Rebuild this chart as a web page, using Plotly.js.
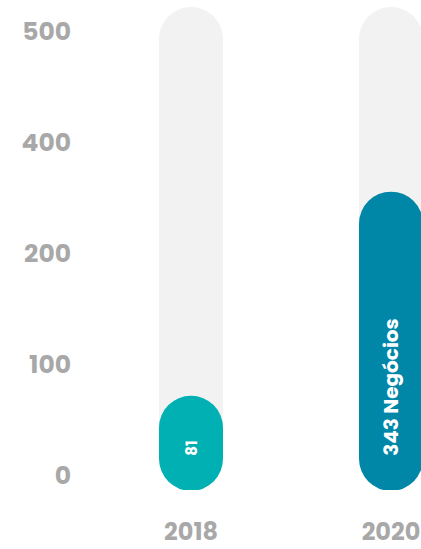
<!DOCTYPE html>
<html>
<head>
<meta charset="utf-8">
<script src="https://cdn.plot.ly/plotly-3.0.1.min.js"></script>
<style>html,body{margin:0;padding:0;background:#fff;}#chart{width:421px;height:549px;}</style>
</head>
<body>
<div id="chart"></div>
<script>
// ---- data ----
const categories = ['2018', '2020'];
const values = [81, 343];
const labelSuffixes = ['', ' Negócios'];
const yTickLabels = ['0', '100', '200', '400', '500'];

// ---- styles ----
const barColors = ['#00B0B3', '#0087A8'];
const trackColor = '#F2F2F2';
const tickColor = '#A8A8A8';
const FONT = 'Poppins, Inter, "Open Sans", sans-serif';
const yRange = [-40, 580];
const xRange = [-0.555, 1.15];
const barWidth = 0.32;

const traces = [
  // background track (full height pill)
  {
    type: 'bar', x: categories, y: categories.map(() => yRange[1]),
    width: barWidth, marker: {color: trackColor, cornerradius: '50%', line: {width: 0}},
    hoverinfo: 'skip'
  },
  // rounded bottom cap of each value bar
  {
    type: 'scatter', mode: 'markers', x: categories, y: categories.map(() => 0),
    marker: {size: 64, color: barColors, line: {width: 0}}, hoverinfo: 'skip'
  },
  // value bars (own overlaid x axis so their tops get rounded and sit above the caps)
  {
    type: 'bar', x: categories, y: values, xaxis: 'x2',
    width: barWidth, marker: {color: barColors, cornerradius: '50%', line: {width: 0}},
    text: values.map((v, i) => v + labelSuffixes[i]),
    textposition: 'inside', insidetextanchor: 'start', textangle: -90,
    constraintext: 'none',
    textfont: {family: FONT, size: [15, 20], color: '#FFFFFF', weight: 700},
    hoverinfo: 'x+y'
  },
  // carrier for the left tick labels
  {
    type: 'scatter', mode: 'markers', x: yTickLabels.map(() => categories[0]), y: yTickLabels,
    yaxis: 'y2', marker: {opacity: 0}, hoverinfo: 'skip'
  }
];

const layout = {
  width: 421, height: 549,
  margin: {l: 80, r: 0, t: 7, b: 59, pad: 0},
  paper_bgcolor: '#FFFFFF', plot_bgcolor: '#FFFFFF',
  showlegend: false, barmode: 'overlay',
  xaxis: {
    type: 'category', range: xRange,
    categoryorder: 'array', categoryarray: categories,
    showgrid: false, zeroline: false, showline: false, ticks: '',
    tickfont: {family: FONT, size: 24, color: tickColor, weight: 700},
    ticklabelstandoff: 25, automargin: false, fixedrange: true
  },
  xaxis2: {
    type: 'category', overlaying: 'x', range: xRange,
    categoryorder: 'array', categoryarray: categories,
    visible: false, fixedrange: true
  },
  yaxis: {range: yRange, visible: false, fixedrange: true},
  yaxis2: {
    overlaying: 'y', side: 'left', type: 'category',
    categoryorder: 'array', categoryarray: yTickLabels,
    range: [-0.135, 4.216],
    showgrid: false, zeroline: false, showline: false, ticks: '',
    tickfont: {family: FONT, size: 25, color: tickColor, weight: 700},
    ticklabelstandoff: 8, automargin: false, fixedrange: true
  }
};

Plotly.newPlot('chart', traces, layout, {displayModeBar: false, staticPlot: true});
</script>
</body>
</html>
